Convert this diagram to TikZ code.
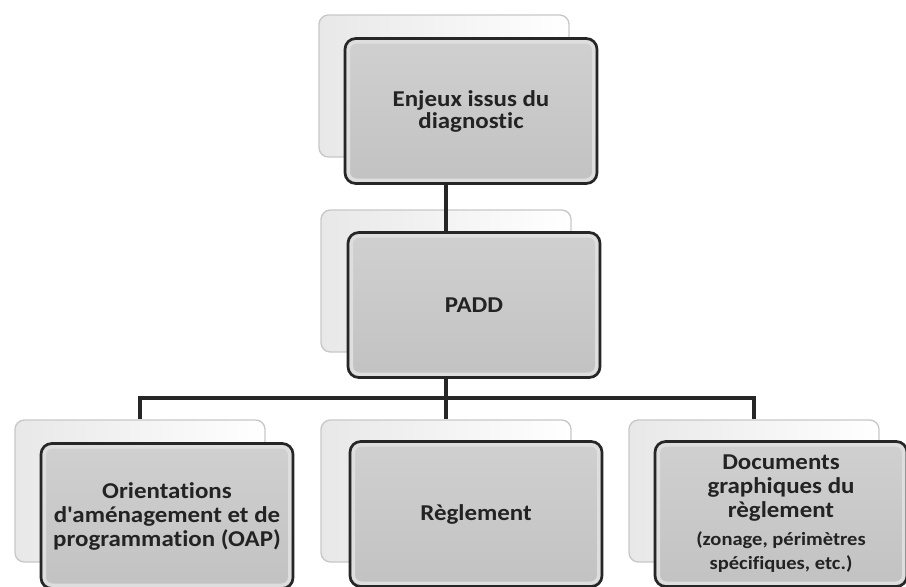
\documentclass[tikz,border=0pt]{standalone}
\usepackage{fontspec}
\setmainfont{Carlito}[FakeStretch=1.1, Ligatures={NoCommon}]
\usetikzlibrary{positioning, calc}

\newcommand{\notetext}[1]{{\fontsize{14}{16}\selectfont #1}}

\begin{document}
\begin{tikzpicture}[x=0.75pt, y=-0.75pt,
  backbox/.style={rectangle, rounded corners=7pt, draw=shadowedge, line width=1pt,
    left color=shadowside, right color=white, minimum width=187.5pt, minimum height=106.5pt},
  frontbox/.style={rectangle, rounded corners=8pt, draw=boxedge, line width=2pt,
    top color=boxtop, bottom color=boxbottom, minimum width=189pt, minimum height=108.75pt,
    align=center, text=textgray, font=\fontsize{17}{18}\selectfont\bfseries,
    path picture={\draw[boxrim, line width=2.5pt, rounded corners=6pt]
      ([shift={(2.5pt,-2.5pt)}]path picture bounding box.north west) rectangle
      ([shift={(-2.5pt,2.5pt)}]path picture bounding box.south east);}},
  link/.style={draw=boxedge, line width=2.3pt}]
  % Define colors
  \definecolor{boxedge}{RGB}{38,38,38}
  \definecolor{boxtop}{RGB}{208,208,208}
  \definecolor{boxbottom}{RGB}{194,194,194}
  \definecolor{boxrim}{RGB}{222,222,222}
  \definecolor{shadowedge}{RGB}{200,200,200}
  \definecolor{shadowside}{RGB}{232,232,232}
  \definecolor{textgray}{RGB}{35,35,35}

  \useasboundingbox (0,0) rectangle (906,586);

  % Back cards
  \node[backbox] (enjeuxbg) at (444,86) {};
  \node[backbox] (paddbg) at (446,281) {};
  \node[backbox] (oapbg) at (140,491) {};
  \node[backbox] (reglbg) at (446,491) {};
  \node[backbox] (docbg) at (754,491) {};

  % Front cards
  \node[frontbox, font=\fontsize{17}{16.5}\selectfont\bfseries] (enjeux) at (471,111)
    {Enjeux issus du\\diagnostic};
  \node[frontbox] (padd) at (474,305) {PADD};
  \node[frontbox] (oap) at (167,516)
    {Orientations\\d\textquotesingle aménagement et de\\programmation (OAP)};
  \node[frontbox] (regl) at (476,514) {Règlement};
  \node[frontbox] (doc) at (781,514) {Documents\\graphiques du\\règlement\\[3pt]
    \notetext{(zonage, périmètres}\\\notetext{spécifiques, etc.)}};

  % Connectors
  \coordinate (bus) at (446,398);
  \draw[link] (enjeux.south -| paddbg.north) -- (padd.north -| paddbg.north);
  \draw[link] (padd.south -| paddbg.north) -- (bus);
  \draw[link] (oapbg.north) |- (bus) -| (docbg.north);
  \draw[link] (bus) -- (reglbg.north);

\end{tikzpicture}
\end{document}
